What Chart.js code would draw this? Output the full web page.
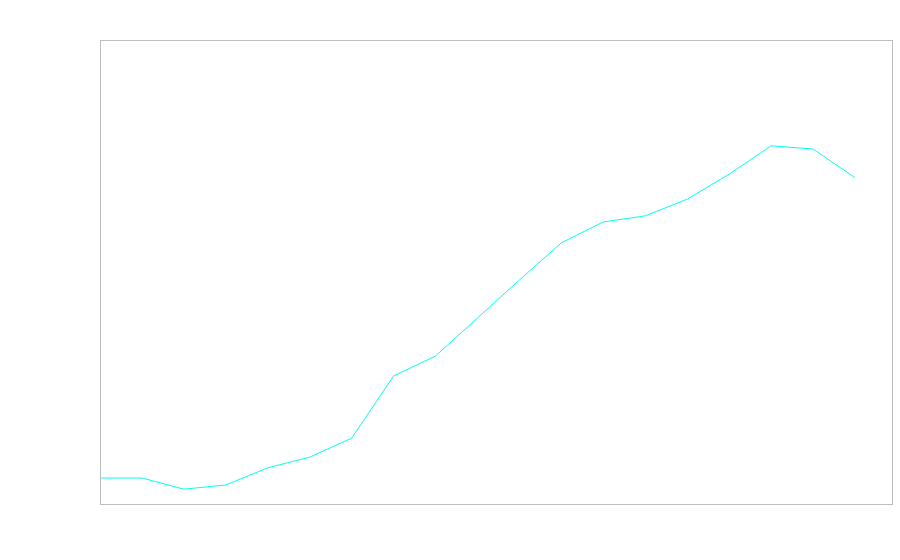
<!DOCTYPE html>
<html>
<head>
<meta charset="utf-8">
<script src="https://cdn.jsdelivr.net/npm/chart.js@4"></script>
<style>
  html, body { margin: 0; padding: 0; background: #ffffff; }
  #wrap { width: 900px; height: 560px; }
</style>
</head>
<body>
<div id="wrap"><canvas id="c" width="900" height="560"></canvas></div>
<script>
const categories = [0, 1, 2, 3, 4, 5, 6, 7, 8, 9, 10, 11, 12, 13, 14, 15, 16, 17, 18];
const seriesValues = [5.6, 5.6, 3.2, 4.1, 7.8, 10.1, 14.2, 27.6, 31.9, 40.1, 48.3, 56.3, 60.8, 62.1, 65.7, 71.1, 77.2, 76.5, 70.3];

const points = categories.map((c, i) => ({ x: c, y: seriesValues[i] }));

const frame = {
  id: 'frame',
  afterDraw(chart) {
    const a = chart.chartArea;
    const ctx = chart.ctx;
    ctx.save();
    ctx.strokeStyle = '#bdbdbd';
    ctx.lineWidth = 1;
    ctx.strokeRect(Math.round(a.left) + 0.5, Math.round(a.top) + 0.5,
                   Math.round(a.right - a.left), Math.round(a.bottom - a.top));
    ctx.restore();
  }
};

new Chart(document.getElementById('c'), {
  type: 'line',
  data: {
    datasets: [{
      data: points,
      borderColor: '#00ffee',
      borderWidth: 1,
      pointRadius: 0,
      fill: false,
      tension: 0
    }]
  },
  options: {
    responsive: false,
    animation: false,
    events: [],
    layout: { padding: { left: 100, top: 40, right: 8, bottom: 56 } },
    plugins: { legend: { display: false }, tooltip: { enabled: false } },
    scales: {
      x: { type: 'linear', display: false, min: 0, max: 18.88 },
      y: { type: 'linear', display: false, min: 0, max: 100 }
    }
  },
  plugins: [frame]
});
</script>
</body>
</html>
